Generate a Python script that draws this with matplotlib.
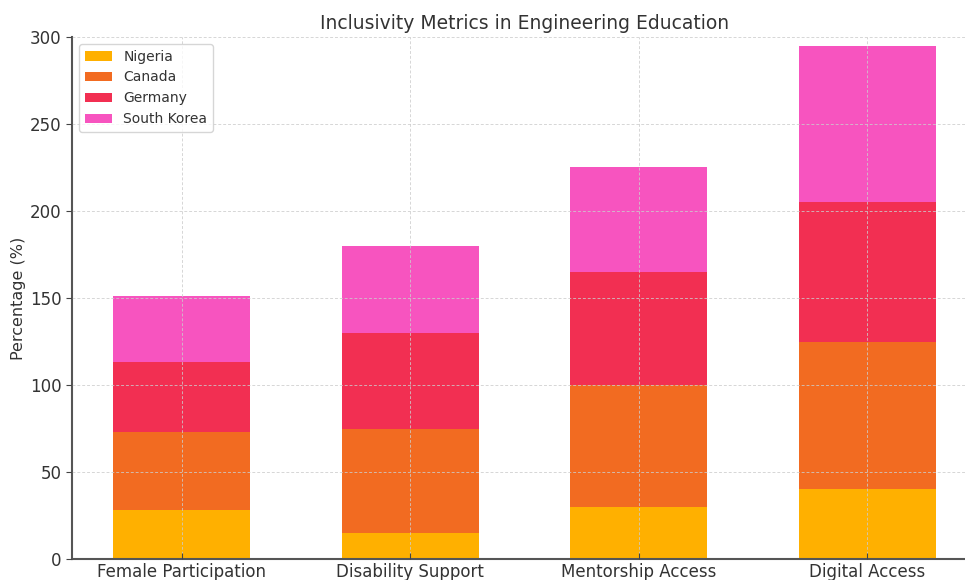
import matplotlib
matplotlib.use("Agg")
import matplotlib.pyplot as plt
import numpy as np

categories = ["Female Participation", "Disability Support", "Mentorship Access", "Digital Access"]
countries = ["Nigeria", "Canada", "Germany", "South Korea"]
nigeria = [28, 15, 30, 40]
canada = [45, 60, 70, 85]
germany = [40, 55, 65, 80]
south_korea = [38, 50, 60, 90]
series = [nigeria, canada, germany, south_korea]
colors = ["#FFB000", "#F26B21", "#F22F52", "#F754BF"]

fig = plt.figure(figsize=(9.65, 5.8), dpi=100)
ax = fig.add_axes([72 / 965, 21 / 580, 905 / 965, 522 / 580])

x = np.arange(len(categories))
bottom = np.zeros(len(categories))
for name, vals, col in zip(countries, series, colors):
    ax.bar(x, vals, width=0.6, bottom=bottom, color=col, label=name, zorder=2)
    bottom += np.array(vals)

ax.set_ylim(0, 300)
ax.set_xlim(-0.48, 3.48)
ax.set_xticks(x)
ax.set_xticklabels(categories, fontsize=12, color="#333333")
ax.set_yticks([0, 50, 100, 150, 200, 250, 300])
ax.tick_params(axis="y", labelsize=12, labelcolor="#333333", direction="out", length=4, color="#444444")
ax.tick_params(axis="x", direction="in", length=4, color="#444444", pad=3)

ax.grid(True, linestyle=(0, (3, 2)), linewidth=0.7, color="#cccccc", alpha=0.8, zorder=3)
ax.set_axisbelow(False)

for s in ["top", "right"]:
    ax.spines[s].set_visible(False)
for s in ["left", "bottom"]:
    ax.spines[s].set_color("#555555")
    ax.spines[s].set_linewidth(1.5)

ax.set_ylabel("Percentage (%)", fontsize=11.5, color="#333333", labelpad=3)
ax.set_title("Inclusivity Metrics in Engineering Education", fontsize=13.5, color="#333333", pad=6)

leg = ax.legend(loc="upper left", fontsize=10, frameon=True, fancybox=True)
for t in leg.get_texts():
    t.set_color("#333333")

fig.savefig("out.png", dpi=100)
